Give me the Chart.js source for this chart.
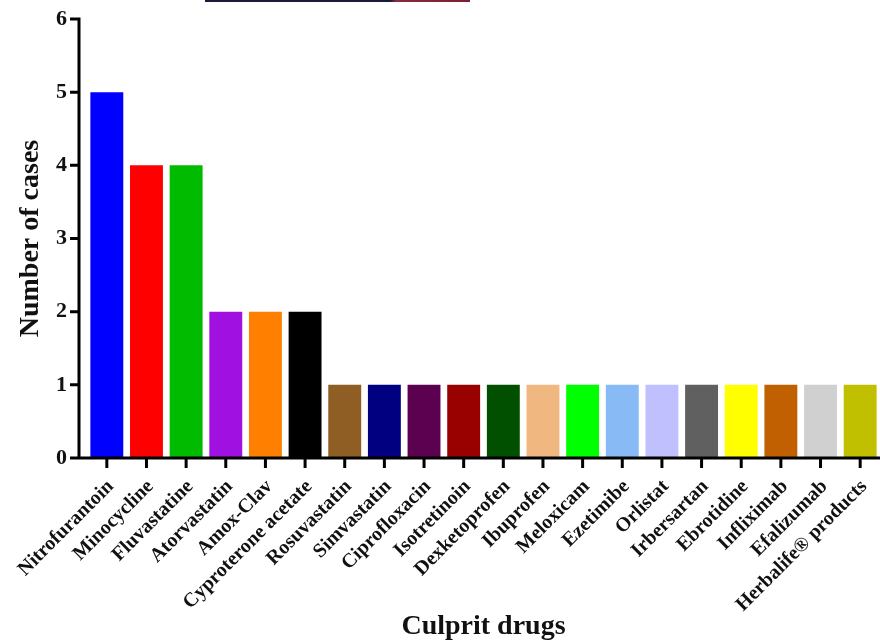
<!DOCTYPE html>
<html>
<head>
<meta charset="utf-8">
<script src="https://cdn.jsdelivr.net/npm/chart.js@4.4.1/dist/chart.umd.min.js"></script>
<style>
  html, body { margin: 0; padding: 0; background: #fff; }
  #wrap { position: relative; width: 880px; height: 644px; }
  canvas { display: block; }
  #topline { position: absolute; top: 0; left: 205px; width: 265px; height: 2px;
    background: linear-gradient(to right, #1c1a3c 0%, #1c1a3c 70%, #8a2a3a 72%, #7a2030 100%); }
</style>
</head>
<body>
<div id="wrap">
  <canvas id="c" width="880" height="644"></canvas>
  <div id="topline"></div>
</div>
<script>
const drugs = ["Nitrofurantoin", "Minocycline", "Fluvastatine", "Atorvastatin", "Amox-Clav",
  "Cyproterone acetate", "Rosuvastatin", "Simvastatin", "Ciprofloxacin", "Isotretinoin",
  "Dexketoprofen", "Ibuprofen", "Meloxicam", "Ezetimibe", "Orlistat", "Irbersartan",
  "Ebrotidine", "Infliximab", "Efalizumab", "Herbalife® products"];
const cases = [5, 4, 4, 2, 2, 2, 1, 1, 1, 1, 1, 1, 1, 1, 1, 1, 1, 1, 1, 1];
const barColors = ["#0000FF", "#FF0000", "#00BB00", "#A010E0", "#FF8000", "#000000",
  "#8E5E24", "#000080", "#5C0050", "#990000", "#005000", "#F0B880", "#00FF00",
  "#88BBF6", "#C0C0FF", "#606060", "#FFFF00", "#C06000", "#D0D0D0", "#C0C000"];
const yTicks = [0, 1, 2, 3, 4, 5, 6];
const yTitle = "Number of cases";
const xTitle = "Culprit drugs";

const FONT = "'Liberation Serif', 'Times New Roman', serif";

const axesPlugin = {
  id: 'axesPlugin',
  afterDatasetsDraw(chart) {
    const { ctx, chartArea, scales } = chart;
    const x = scales.x, y = scales.y;
    const ax = chartArea.left - 8;
    const bottom = y.getPixelForValue(0);
    const top = y.getPixelForValue(yTicks[yTicks.length - 1]);
    ctx.save();
    ctx.strokeStyle = '#000';
    ctx.lineWidth = 3;
    ctx.lineCap = 'butt';
    ctx.beginPath();
    ctx.moveTo(ax, top - 1.5);
    ctx.lineTo(ax, bottom + 1.5);
    ctx.moveTo(ax - 1.5, bottom);
    ctx.lineTo(chartArea.right, bottom);
    yTicks.forEach(v => {
      const py = y.getPixelForValue(v);
      ctx.moveTo(ax - 9, py);
      ctx.lineTo(ax, py);
    });
    drugs.forEach((d, i) => {
      const px = x.getPixelForValue(i);
      ctx.moveTo(px, bottom);
      ctx.lineTo(px, bottom + 10);
    });
    ctx.stroke();
    ctx.restore();
  }
};

new Chart(document.getElementById('c'), {
  type: 'bar',
  data: {
    labels: drugs,
    datasets: [{
      data: cases,
      backgroundColor: barColors,
      borderWidth: 0,
      barPercentage: 0.83,
      categoryPercentage: 1.0
    }]
  },
  options: {
    responsive: false,
    animation: false,
    devicePixelRatio: 1,
    layout: { padding: { top: 19, right: 0, left: 0, bottom: 0 } },
    plugins: { legend: { display: false }, tooltip: { enabled: false } },
    scales: {
      x: {
        type: 'category',
        offset: true,
        grid: { display: false, drawTicks: false },
        border: { display: false },
        ticks: {
          autoSkip: false,
          maxRotation: 45,
          minRotation: 45,
          padding: 17,
          labelOffset: 4,
          color: '#111',
          font: { family: FONT, size: 20, weight: 'bold' }
        },
        title: {
          display: true,
          text: xTitle,
          color: '#111',
          padding: { top: 0, bottom: 0 },
          font: { family: FONT, size: 28, weight: 'bold' }
        },
        afterFit(scale) {
          scale.height = 186;
          scale.paddingLeft = 0;
          scale.paddingRight = 0;
        }
      },
      y: {
        min: 0,
        max: 6,
        grid: { display: false, drawTicks: false },
        border: { display: false },
        afterBuildTicks(scale) {
          scale.ticks = yTicks.map(v => ({ value: v }));
        },
        ticks: {
          padding: 20,
          color: '#111',
          font: { family: FONT, size: 22, weight: 'bold' }
        },
        title: {
          display: true,
          text: yTitle,
          color: '#111',
          padding: { top: 14, bottom: 0 },
          font: { family: FONT, size: 28, weight: 'bold' }
        },
        afterFit(scale) {
          scale.width = 87;
          scale.paddingTop = 0;
          scale.paddingBottom = 0;
        }
      }
    }
  },
  plugins: [axesPlugin]
});
</script>
</body>
</html>
